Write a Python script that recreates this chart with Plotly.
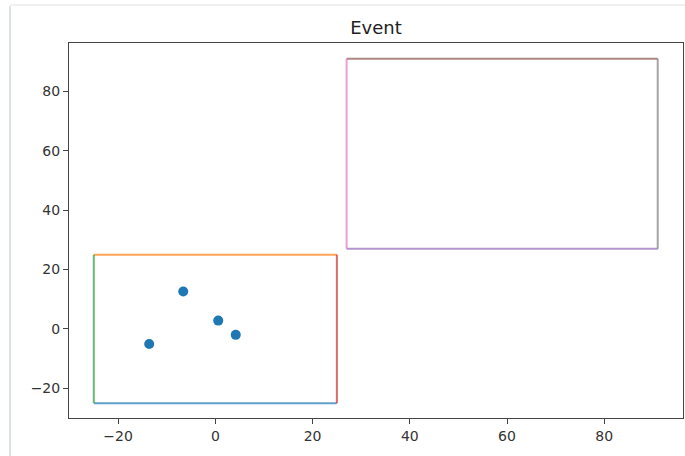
import plotly.graph_objects as go

# Scatter points (event hits)
pts_x = [-13.6, -6.6, 0.6, 4.2]
pts_y = [-5.1, 12.6, 2.8, -2.0]

# Boxes: [x0, x1, y0, y1]
box1 = [-25.0, 25.0, -25.0, 25.0]
box2 = [27.0, 91.0, 27.0, 91.0]

# matplotlib tab10 colour cycle, one per edge (bottom, top, left, right)
box1_colors = ["#1f77b4", "#ff7f0e", "#2ca02c", "#d62728"]
box2_colors = ["#9467bd", "#8c564b", "#e377c2", "#7f7f7f"]

tick_vals = [-20, 0, 20, 40, 60, 80]

fig = go.Figure()


def add_box(b, colors):
    x0, x1, y0, y1 = b
    edges = [
        ([x0, x1], [y0, y0]),  # bottom
        ([x0, x1], [y1, y1]),  # top
        ([x0, x0], [y0, y1]),  # left
        ([x1, x1], [y0, y1]),  # right
    ]
    for (ex, ey), c in zip(edges, colors):
        fig.add_trace(go.Scatter(x=ex, y=ey, mode="lines",
                                 line=dict(color=c, width=2), opacity=0.7,
                                 showlegend=False, hoverinfo="skip"))


add_box(box1, box1_colors)
add_box(box2, box2_colors)

fig.add_trace(go.Scatter(x=pts_x, y=pts_y, mode="markers",
                         marker=dict(color="#1f77b4", size=10, line=dict(width=0)),
                         showlegend=False))

axis_common = dict(
    showgrid=False, zeroline=False, showline=True, mirror=True,
    linecolor="#444", linewidth=1, ticks="outside", ticklen=5,
    tickcolor="#444", tickwidth=1, tickvals=tick_vals,
    tickfont=dict(family="DejaVu Sans", size=14, color="#333"),
)

W, H = 685, 456
L, R, T, B = 69, 2, 43, 38
PW, PH = W - L - R, H - T - B

fig.update_layout(
    width=W, height=H,
    margin=dict(l=L, r=R, t=T, b=B),
    paper_bgcolor="white", plot_bgcolor="white",
    title=dict(text="Event", x=0.5, xref="paper",
               y=1 - 28 / H, yanchor="middle", xanchor="center",
               font=dict(family="DejaVu Sans", size=18, color="#222")),
    xaxis=dict(range=[-30.1, 96.2], **axis_common),
    yaxis=dict(range=[-30.0, 96.3], **axis_common),
    shapes=[
        # notebook output frame
        dict(type="line", xref="paper", yref="paper",
             x0=(10 - L) / PW, x1=(10 - L) / PW, y0=-B / PH, y1=(PH + T - 6) / PH,
             line=dict(color="#dde2e6", width=2)),
        dict(type="line", xref="paper", yref="paper",
             x0=(10 - L) / PW, x1=(W - L) / PW, y0=(PH + T - 5) / PH, y1=(PH + T - 5) / PH,
             line=dict(color="#eef0f2", width=2)),
    ],
)

fig.write_html("out.html", config={"displayModeBar": False},
               post_script="document.body.style.margin='0';document.body.style.overflow='hidden';")
